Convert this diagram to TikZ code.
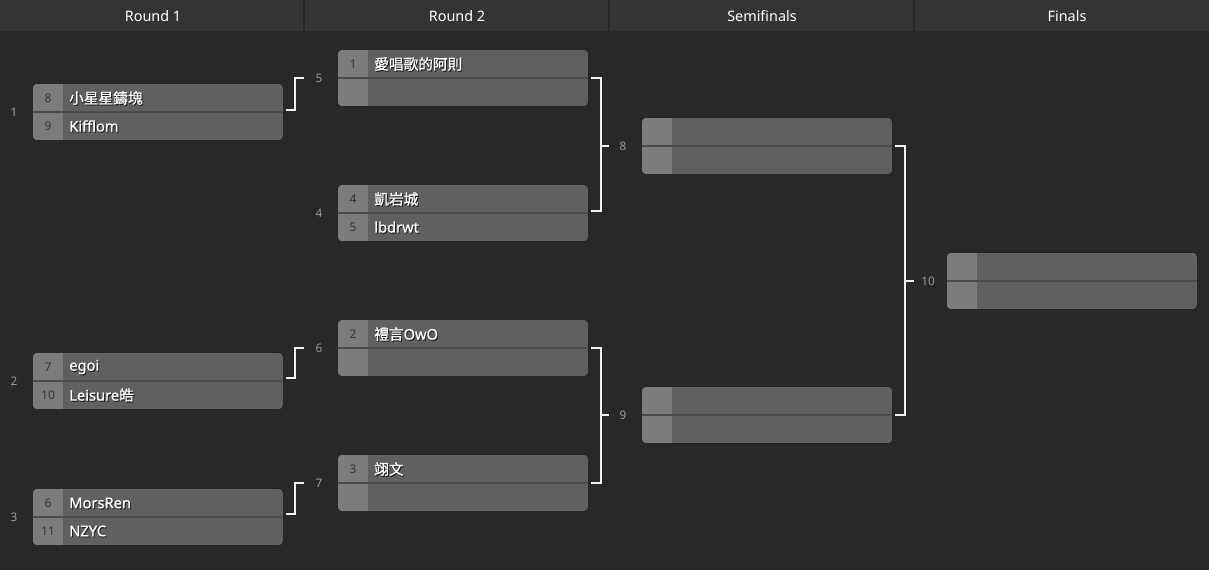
\documentclass[tikz,border=0pt]{standalone}
\usepackage{fontspec}
\setmainfont{Noto Sans}
\newfontfamily\namefont[FakeBold=0.6]{Noto Sans}
\newfontfamily\cjk[FakeBold=0.6]{Noto Sans CJK TC}
\definecolor{bodybg}{HTML}{282828}
\definecolor{hdrbg}{HTML}{343434}
\definecolor{hdrsep}{HTML}{262626}
\definecolor{namecol}{HTML}{606060}
\definecolor{seedcol}{HTML}{7C7C7C}
\definecolor{divcol}{HTML}{4C4C4C}
\definecolor{seedtc}{HTML}{383838}
\definecolor{lblc}{HTML}{9A9A9A}
\definecolor{connc}{HTML}{F0F0F0}
\newcommand\mtch[8]{%
  \begin{scope}[shift={(#2,#3)}]
    \begin{scope}
      \clip[rounded corners=3] (0,0) rectangle (250,56);
      \fill[namecol] (0,0) rectangle (250,56);
      \fill[seedcol] (0,0) rectangle (30,56);
      \draw[divcol, line width=1.2pt] (0,28) -- (250,28);
    \end{scope}
    \node[mbox] (#1) at (125,28) {};
    \node[seedtxt] at (15,14) {#4};
    \node[seedtxt] at (15,42) {#6};
    \node[nameshadow] at (37,15.2) {#5};
    \node[nameshadow] at (37,43.2) {#7};
    \node[nametxt] at (36,14) {#5};
    \node[nametxt] at (36,42) {#7};
    \node[lbl] (#1l) at (-19,28) {#8};
  \end{scope}}
\begin{document}
\begin{tikzpicture}[x=0.75pt,y=-0.75pt,
  conn/.style={draw=connc, line width=1.6pt},
  hdr/.style={text=white, font=\fontsize{10.8}{12}\selectfont},
  seedtxt/.style={text=seedtc, font=\fontsize{9}{10}\selectfont, inner sep=0},
  nametxt/.style={text=white, anchor=west, inner sep=0, font=\namefont\fontsize{11}{12}\selectfont},
  nameshadow/.style={nametxt, text=black, text opacity=0.55},
  lbl/.style={text=lblc, font=\fontsize{8.8}{10}\selectfont, inner sep=0},
  mbox/.style={minimum width=187.5pt, minimum height=42pt, inner sep=0}]
\useasboundingbox (0,0) rectangle (1209,570);
\fill[bodybg] (0,0) rectangle (1209,570);
\fill[hdrbg] (0,0) rectangle (1209,31);
\foreach \x in {304,609,914} \draw[hdrsep, line width=1pt] (\x,0) -- (\x,31);
\node[hdr] (h1) at (153,16) {Round 1};
\node[hdr] (h2) at (457,16) {Round 2};
\node[hdr] (h3) at (762,16) {Semifinals};
\node[hdr] (h4) at (1067,16) {Finals};
% Round 1
\mtch{m1}{33}{84}{8}{{\cjk 小星星鑄塊}}{9}{Kifflom}{1}
\mtch{m2}{33}{353}{7}{egoi}{10}{Leisure{\cjk 皓}}{2}
\mtch{m3}{33}{489}{6}{MorsRen}{11}{NZYC}{3}
% Round 2
\mtch{m5}{338}{50}{1}{{\cjk 愛唱歌的阿則}}{}{}{5}
\mtch{m4}{338}{185}{4}{{\cjk 凱岩城}}{5}{lbdrwt}{4}
\mtch{m6}{338}{320}{2}{{\cjk 禮言}OwO}{}{}{6}
\mtch{m7}{338}{455}{3}{{\cjk 翊文}}{}{}{7}
% Semifinals
\mtch{m8}{642}{118}{}{}{}{}{8}
\mtch{m9}{642}{387}{}{}{}{}{9}
% Final
\mtch{m10}{947}{253}{}{}{}{}{10}
% connectors Round 1 -> Round 2
\draw[conn] ([shift={(3,-2)}]m1.east) -| ([shift={(-43,0)}]m5.west) -- ([shift={(-34,0)}]m5.west);
\draw[conn] ([shift={(3,-3)}]m2.east) -| ([shift={(-43,0)}]m6.west) -- ([shift={(-34,0)}]m6.west);
\draw[conn] ([shift={(3,-3)}]m3.east) -| ([shift={(-43,0)}]m7.west) -- ([shift={(-34,0)}]m7.west);
% Round 2 -> Semifinals
\draw[conn] ([shift={(3,0)}]m5.east) -| ([shift={(13,-2)}]m4.east) -- ([shift={(3,-2)}]m4.east);
\draw[conn] ([shift={(13,0)}]m5.east |- m8.west) -- ([shift={(-33,0)}]m8.west);
\draw[conn] ([shift={(3,0)}]m6.east) -| ([shift={(13,0)}]m7.east) -- ([shift={(3,0)}]m7.east);
\draw[conn] ([shift={(13,0)}]m6.east |- m9.west) -- ([shift={(-33,0)}]m9.west);
% Semifinals -> Final
\draw[conn] ([shift={(3,0)}]m8.east) -| ([shift={(13,0)}]m9.east) -- ([shift={(3,0)}]m9.east);
\draw[conn] ([shift={(13,0)}]m8.east |- m10.west) -- ([shift={(-33,0)}]m10.west);
\end{tikzpicture}
\end{document}
